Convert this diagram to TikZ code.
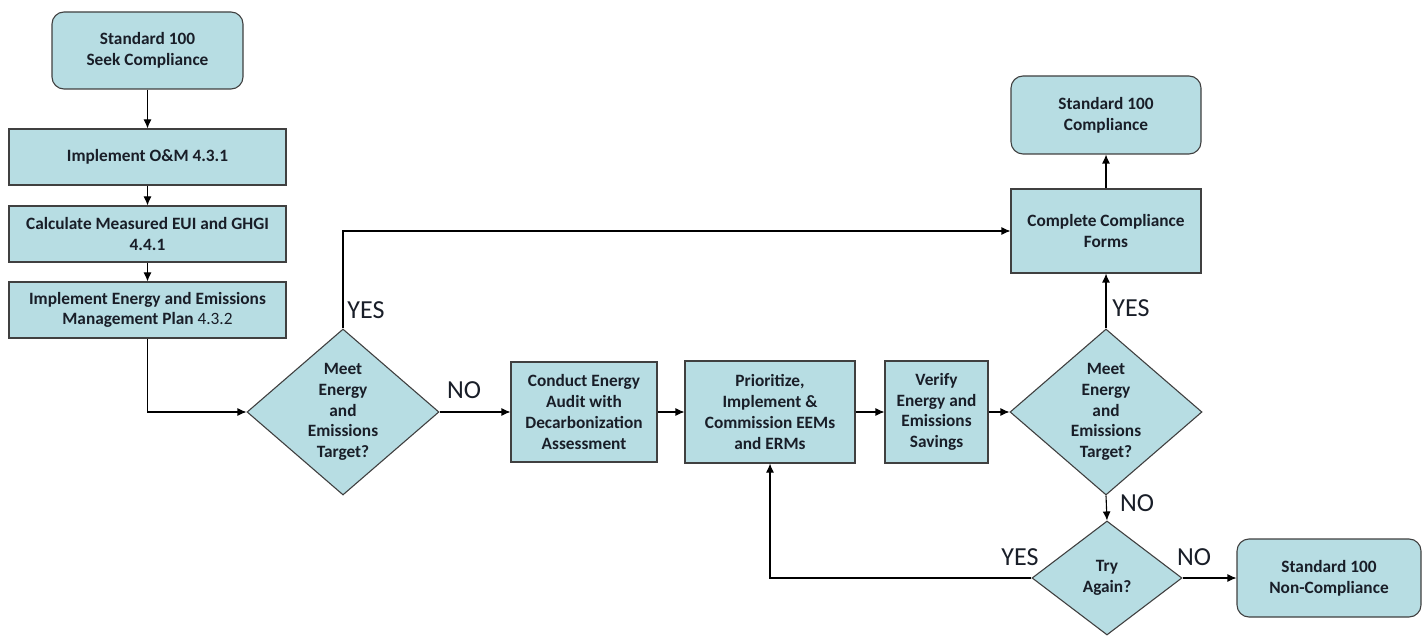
\documentclass[tikz,border=0pt]{standalone}
\usepackage{fontspec}
\setmainfont{Carlito}
\usetikzlibrary{shapes.geometric,arrows.meta}
\definecolor{boxfill}{RGB}{183,221,227}
\definecolor{boxline}{RGB}{64,64,64}
\definecolor{txt}{RGB}{25,30,40}
\begin{document}
\begin{tikzpicture}[x=1pt,y=-1pt,
  base/.style={draw=boxline, fill=boxfill, line width=1.1pt, align=center, text=txt,
    font=\fontsize{17.3}{20.7}\selectfont\bfseries, inner sep=0pt},
  box/.style={base, rectangle},
  term/.style={base, rectangle, rounded corners=12pt},
  dia/.style={base, diamond, aspect=1.16},
  lbl/.style={font=\fontsize{26}{30}\selectfont, inner sep=0pt, text=txt},
  arr/.style={draw=black, line width=1.1pt, -{Latex[length=9pt,width=8pt]}}
]
\useasboundingbox (0,0) rectangle (1422,636);

\node[term, minimum width=191pt, minimum height=77pt] (b1) at (147.5,50.5) {Standard 100\\Seek Compliance};
\node[box, minimum width=277pt, minimum height=56pt] (b2) at (147.5,157) {Implement O\&M 4.3.1};
\node[box, minimum width=277pt, minimum height=56pt] (b3) at (147.5,234) {Calculate Measured EUI and GHGI\\4.4.1};
\node[box, minimum width=277pt, minimum height=56pt] (b4) at (147.5,310) {Implement Energy and Emissions\\Management Plan \mdseries 4.3.2};

\node[dia, minimum width=192pt, minimum height=166pt] (d1) at (343,412) {Meet\\Energy\\and\\Emissions\\Target?};
\node[box, minimum width=146pt, minimum height=100pt] (conduct) at (584,412) {Conduct Energy\\Audit with\\Decarbonization\\Assessment};
\node[box, minimum width=170pt, minimum height=102pt] (prio) at (770,412) {Prioritize,\\Implement \&\\Commission EEMs\\and ERMs};
\node[box, minimum width=103pt, minimum height=102pt] (verify) at (936.5,412) {Verify\\Energy and\\Emissions\\Savings};
\node[dia, minimum width=192pt, minimum height=166pt] (d2) at (1106,412) {Meet\\Energy\\and\\Emissions\\Target?};
\node[box, minimum width=190pt, minimum height=84pt] (forms) at (1106,231) {Complete Compliance\\Forms};
\node[term, minimum width=190pt, minimum height=78pt] (comp) at (1106,115) {Standard 100\\Compliance};
\node[dia, minimum width=150pt, minimum height=114pt] (try) at (1107,578) {Try\\Again?};
\node[term, minimum width=184pt, minimum height=78pt] (noncomp) at (1329,578) {Standard 100\\Non-Compliance};

\draw[arr] (b1) -- (b2);
\draw[arr] (b2) -- (b3);
\draw[arr] (b3) -- (b4);
\draw[arr] (b4.south) |- (d1.west);
\draw[arr] (d1.north) |- (forms.west);
\draw[arr] (d1.east) -- (conduct.west);
\draw[arr] (conduct.east) -- (prio.west);
\draw[arr] (prio.east) -- (verify.west);
\draw[arr] (verify.east) -- (d2.west);
\draw[arr] (d2.north) -- (forms.south);
\draw[arr] (forms.north) -- (comp.south);
\draw[arr] (d2.south) -- (try.north);
\draw[arr] (try.east) -- (noncomp.west);
\draw[arr] (try.west) -| (prio.south);

\node[lbl] (yes1) at (366,310) {YES};
\node[lbl] (no1) at (464,390) {NO};
\node[lbl] (yes2) at (1131,308) {YES};
\node[lbl] (no2) at (1137,503) {NO};
\node[lbl] (yes3) at (1020,557) {YES};
\node[lbl] (no3) at (1194,557) {NO};
\end{tikzpicture}
\end{document}
